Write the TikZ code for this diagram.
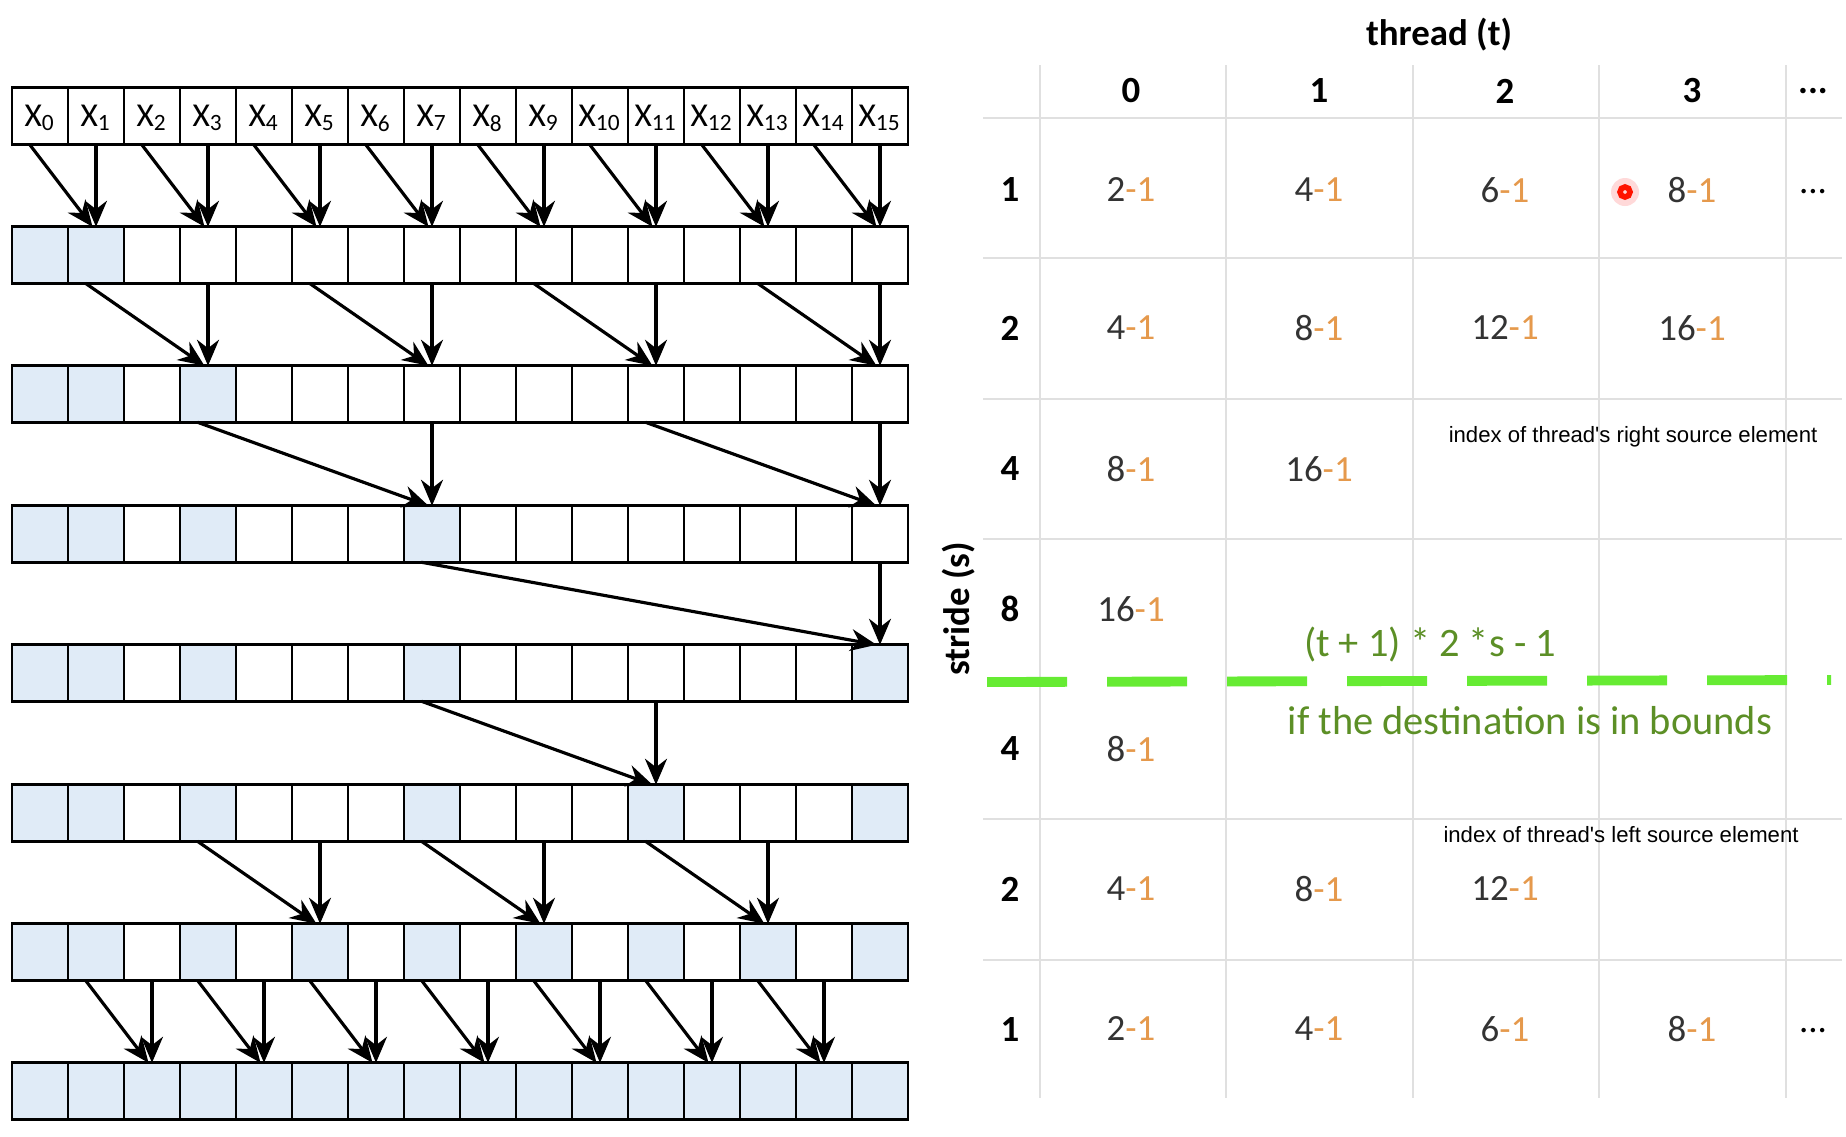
\documentclass[tikz,border=0pt]{standalone}
\usepackage{fontspec}
\setmainfont{Carlito}
\newfontfamily\notefont{Liberation Sans}
\usetikzlibrary{arrows.meta}
\definecolor{cellblue}{rgb}{0.88,0.92,0.97}
\definecolor{minusone}{rgb}{0.90,0.60,0.30}
\definecolor{gridgray}{rgb}{0.88,0.88,0.88}
\definecolor{okgreen}{rgb}{0.36,0.56,0.15}
\definecolor{dashgreen}{rgb}{0.40,0.92,0.20}
\newcommand{\idx}[1]{\textcolor{black!80}{#1}\textcolor{minusone}{-1}}
\begin{document}
\begin{tikzpicture}[x=0.1mm, y=-0.1mm, font=\fontsize{9.5}{11}\selectfont,
cell/.style={rectangle, draw, line width=0.8pt, minimum width=5.6mm, minimum height=5.65mm, inner sep=0pt, outer sep=0pt},
hi/.style={cell, fill=cellblue},
arr/.style={-{Stealth[length=2.6mm, width=2.2mm]}, line width=0.9pt},
entry/.style={font=\fontsize{10.5}{12}\selectfont},
head/.style={font=\fontsize{10.5}{12}\selectfont\bfseries},
note/.style={font=\notefont\fontsize{6.3}{7}\selectfont},
grid/.style={draw=gridgray, line width=0.6pt}]
 \useasboundingbox (0,0) rectangle (1846,1136);

 % arrays
 \foreach \r/\y in {0/116,1/255,2/394,3/534,4/673,5/813,6/952,7/1091}
  \foreach \i in {0,...,15}
   \node[cell] (c\r-\i) at ({40+56*\i},\y) {};
 \foreach \i in {0,...,15}
  \node[anchor=base] at ([yshift=-3pt]c0-\i) {X\textsubscript{\i}};
 \foreach \r/\lst in {1/{0,1},2/{0,1,3},3/{0,1,3,7},4/{0,1,3,7,15},5/{0,1,3,7,11,15},
   6/{0,1,3,5,7,9,11,13,15},7/{0,1,2,3,4,5,6,7,8,9,10,11,12,13,14,15}}
  \foreach \i in \lst
   \node[hi] at (c\r-\i) {};

 % sweeps
 \foreach \r/\s/\pairs in {0/1/{0/1,2/3,4/5,6/7,8/9,10/11,12/13,14/15},1/2/{1/3,5/7,9/11,13/15},
   2/3/{3/7,11/15},3/4/{7/15},4/5/{7/11},5/6/{3/5,7/9,11/13},6/7/{1/2,3/4,5/6,7/8,9/10,11/12,13/14}}
  \foreach \a/\b in \pairs {
   \draw[arr] ([xshift=-3pt]c\r-\a.south) -- ([xshift=-1pt]c\s-\b.north);
   \draw[arr] (c\r-\b.south) -- (c\s-\b.north);
  }

 % table grid
 \foreach \x in {1040,1226,1413,1599,1786}
  \draw[grid] (\x,65) -- (\x,1098);
 \foreach \y in {118,258,399,539,819,960}
  \draw[grid] (983,\y) -- (1842,\y);
 \draw[dashgreen, line width=2.8pt, dash pattern=on 8mm off 4mm] (987,682) -- (1831,680);

 \node[head] (thread) at (1439,35) {thread (t)};
 \node[head, rotate=90] (stride) at (959,609) {stride (s)};
 \foreach \t/\x in {0/1131,1/1319,2/1505,3/1692}
  \node[head] (t\t) at (\x,91) {\t};
 \node[head] (tdots) at (1813,91) {...};
 \foreach \s/\y in {1/190,2/328,4/469,8/609}
  \node[head] (s\s) at (1010,\y) {\s};
 \foreach \s/\y in {4/749,2/889,1/1029}
  \node[head] (d\s) at (1010,\y) {\s};

 % right source indices
 \foreach \v/\x/\y in {2/1131/190,4/1319/190,6/1505/190,8/1692/190,
   4/1131/328,8/1319/328,12/1505/328,16/1692/328,8/1131/469,16/1319/469,16/1131/609}
  \node[entry] at (\x,\y) {\idx{\v}};
 % left source indices
 \foreach \v/\x/\y in {8/1131/749,4/1131/889,8/1319/889,12/1505/889,
   2/1131/1029,4/1319/1029,6/1505/1029,8/1692/1029}
  \node[entry] at (\x,\y) {\idx{\v}};
 \node[entry] (rdots) at (1813,192) {...};
 \node[entry] (ldots) at (1813,1031) {...};

 \fill[red!60, opacity=0.25] (1625,192) circle (14);
 \draw[red!85!orange, line width=1.6pt] (1625,192) circle (5);

 \node[note] (rightsrc) at (1633,437) {index of thread's right source element};
 \node[note] (leftsrc) at (1621,835) {index of thread's left source element};
 \node[okgreen, font=\fontsize{11.5}{13}\selectfont] (formula) at (1430,645) {(t + 1) * 2 *s - 1};
 \node[okgreen, font=\fontsize{11.5}{13}\selectfont] (bounds) at (1530,721) {if the destination is in bounds};
\end{tikzpicture}
\end{document}
